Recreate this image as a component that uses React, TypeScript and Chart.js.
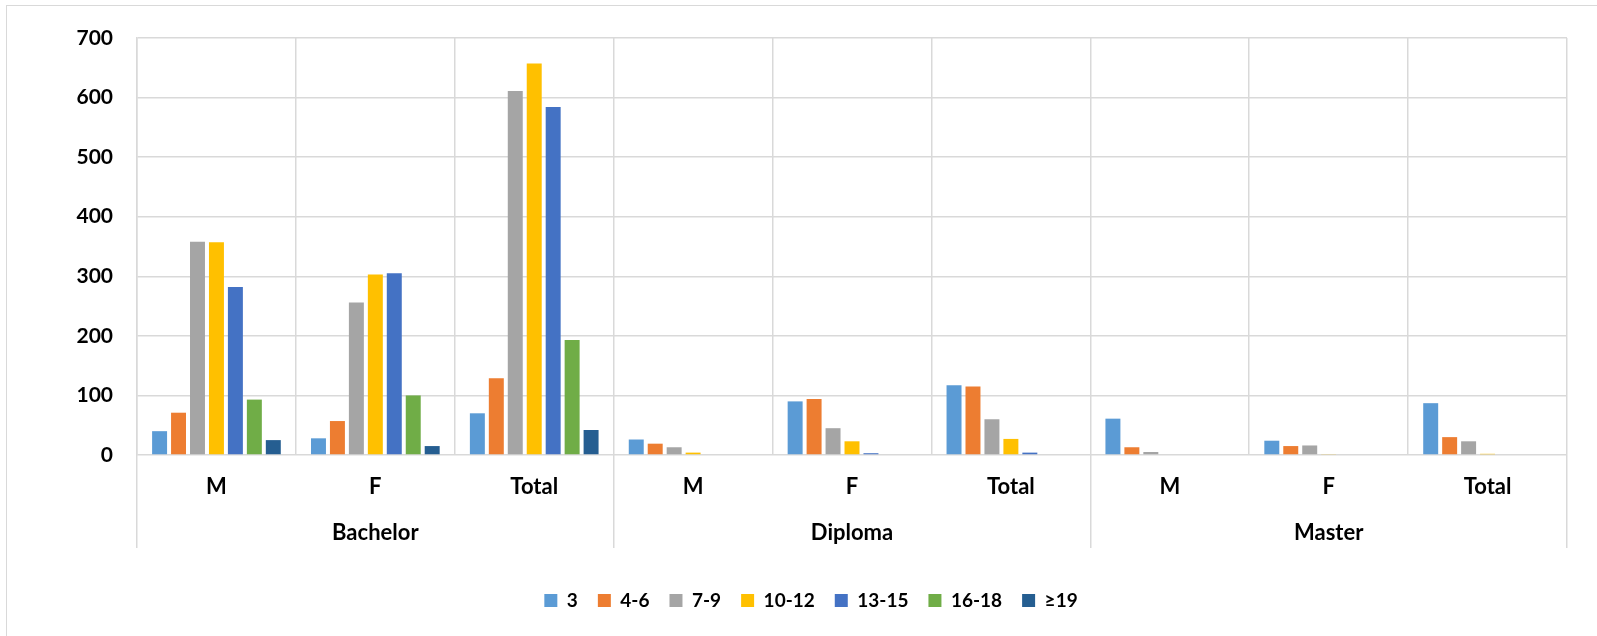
import React, { useEffect, useRef } from "react";
import { Chart, registerables } from "chart.js";

Chart.register(...registerables);

const categories = ["M", "F", "Total", "M", "F", "Total", "M", "F", "Total"];
const groups = ["Bachelor", "Diploma", "Master"];
const seriesNames = ["3", "4-6", "7-9", "10-12", "13-15", "16-18", "≥19"];

const s3 = [40, 28, 70, 26, 90, 117, 61, 24, 87];
const s4to6 = [71, 57, 129, 19, 94, 115, 13, 15, 30];
const s7to9 = [358, 256, 611, 13, 45, 60, 5, 16, 23];
const s10to12 = [357, 303, 657, 4, 23, 27, 0, 1, 2];
const s13to15 = [282, 305, 584, 0, 3, 4, 0, 0, 0];
const s16to18 = [93, 100, 193, 0, 0, 0, 0, 0, 0];
const s19plus = [25, 15, 42, 0, 0, 0, 0, 0, 0];

const seriesValues = [s3, s4to6, s7to9, s10to12, s13to15, s16to18, s19plus];
const colors = ["#5B9BD5", "#ED7D31", "#A5A5A5", "#FFC000", "#4472C4", "#70AD47", "#255E91"];

const yMin = 0;
const yMax = 700;
const yStep = 100;

const GRID = "#d9d9d9";
const FONT = "Lato";

export default function App() {
  const ref = useRef<HTMLCanvasElement>(null);

  useEffect(() => {
    if (!ref.current) return;
    const chart = new Chart(ref.current, {
      type: "bar",
      data: {
        labels: categories,
        datasets: seriesNames.map((name, i) => ({
          label: name,
          data: seriesValues[i],
          backgroundColor: colors[i],
          borderWidth: 0,
          categoryPercentage: 0.835,
          barPercentage: 0.79,
        })),
      },
      options: {
        responsive: false,
        animation: false,
        layout: { padding: { top: 38, right: 30, left: 55, bottom: 16 } },
        plugins: {
          tooltip: { enabled: false },
          legend: {
            position: "bottom",
            labels: {
              boxWidth: 13,
              boxHeight: 13,
              padding: 20,
              color: "#000",
              font: { family: FONT, size: 19, weight: "bold" },
            },
          },
        },
        scales: {
          x: {
            offset: true,
            grid: {
              offset: true,
              color: GRID,
              lineWidth: 1.5,
              drawTicks: true,
              tickLength: 46,
              tickColor: (ctx: any) =>
                ctx.index === undefined || ctx.index % 3 === 0 ? GRID : "rgba(0,0,0,0)",
            },
            border: { display: false },
            ticks: {
              padding: -27,
              color: "#000",
              font: { family: FONT, size: 22, weight: "bold" },
              maxRotation: 0,
            },
            afterFit: (s: any) => {
              s.height = 46;
            },
          },
          x2: {
            type: "category",
            labels: groups,
            position: "bottom",
            offset: true,
            grid: {
              offset: true,
              drawOnChartArea: false,
              drawTicks: true,
              tickLength: 47,
              color: GRID,
              lineWidth: 1.5,
            },
            border: { display: false },
            ticks: {
              padding: -28,
              color: "#000",
              font: { family: FONT, size: 22, weight: "bold" },
              maxRotation: 0,
            },
            afterFit: (s: any) => {
              s.height = 70;
            },
          },
          y: {
            min: yMin,
            max: yMax,
            ticks: {
              stepSize: yStep,
              padding: 24,
              color: "#000",
              font: { family: FONT, size: 21, weight: "bold" },
            },
            grid: { color: GRID, lineWidth: 1.5, drawTicks: false },
            border: { display: true, color: GRID, width: 1.5 },
            afterFit: (s: any) => {
              s.width = 82;
            },
          },
        },
      } as any,
    });
    return () => chart.destroy();
  }, []);

  return (
    <div
      style={{
        position: "fixed",
        left: 0,
        top: 0,
        width: 1597,
        height: 636,
        overflow: "hidden",
        background: "#fff",
      }}
    >
      <canvas ref={ref} width={1597} height={636} style={{ display: "block" }} />
      <div
        style={{
          position: "absolute",
          left: 6,
          top: 5,
          width: 1640,
          height: 680,
          border: "1px solid " + GRID,
          pointerEvents: "none",
        }}
      />
    </div>
  );
}
